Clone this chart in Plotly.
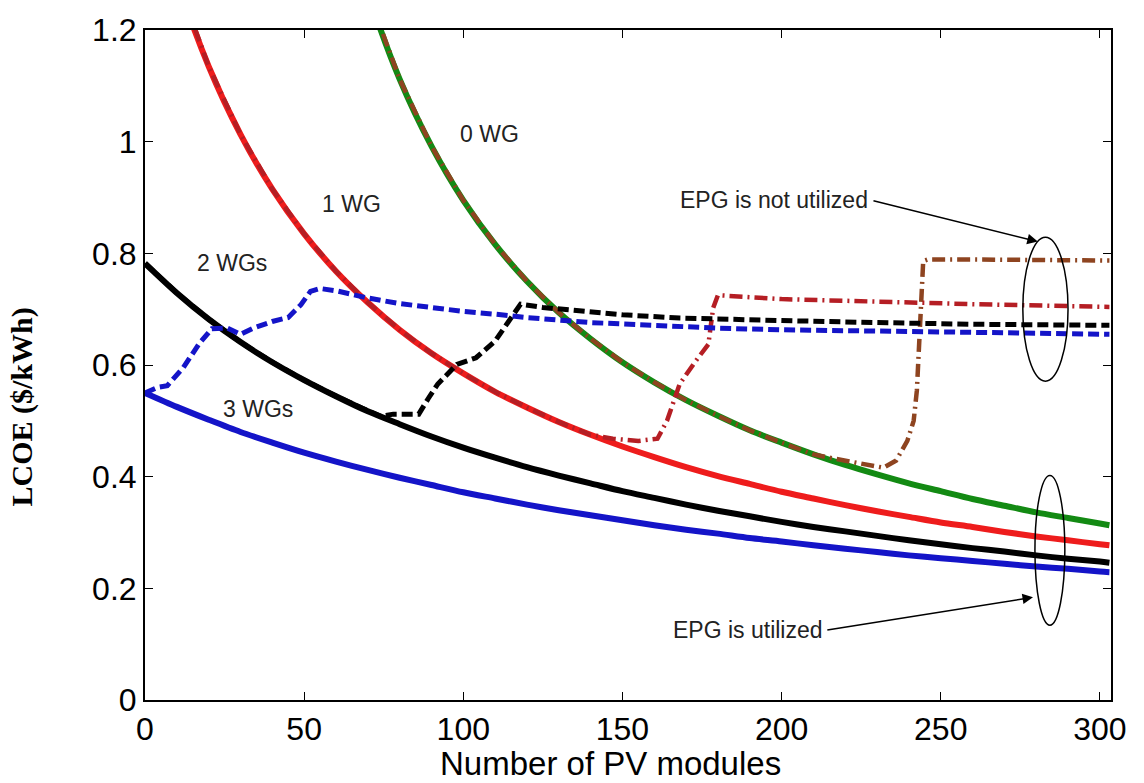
import plotly.graph_objects as go

# ---------------- data ----------------
pv = [0, 10, 20, 30, 40, 50, 60, 70, 80, 90, 100, 110, 120, 130, 140, 150,
      160, 170, 180, 190, 200, 210, 220, 230, 240, 250, 260, 270, 280, 290, 300, 303]

lcoe_1wg = [1.502, 1.292, 1.135, 1.013, 0.915, 0.835, 0.768, 0.712, 0.663, 0.621,
            0.585, 0.552, 0.524, 0.498, 0.475, 0.454, 0.435, 0.417, 0.401, 0.387,
            0.373, 0.361, 0.349, 0.338, 0.328, 0.318, 0.310, 0.301, 0.293, 0.286,
            0.279, 0.277]
lcoe_2wg = [0.782, 0.729, 0.682, 0.641, 0.605, 0.573, 0.544, 0.517, 0.494, 0.472,
            0.452, 0.434, 0.417, 0.402, 0.388, 0.374, 0.362, 0.350, 0.339, 0.329,
            0.319, 0.310, 0.302, 0.294, 0.286, 0.279, 0.272, 0.266, 0.259, 0.253,
            0.248, 0.246]
lcoe_3wg = [0.550, 0.525, 0.502, 0.480, 0.461, 0.443, 0.427, 0.412, 0.398, 0.385,
            0.372, 0.361, 0.350, 0.340, 0.331, 0.322, 0.313, 0.305, 0.298, 0.290,
            0.284, 0.277, 0.271, 0.265, 0.259, 0.254, 0.249, 0.244, 0.239, 0.235,
            0.230, 0.229]

pv_0wg = [65, 70, 80, 90, 100, 110, 120, 130, 140, 150, 160, 170, 180, 190, 200,
          210, 220, 230, 240, 250, 260, 270, 280, 290, 300, 303]
lcoe_0wg = [1.363, 1.267, 1.112, 0.992, 0.895, 0.816, 0.750, 0.694, 0.647, 0.605,
            0.569, 0.537, 0.509, 0.483, 0.461, 0.440, 0.421, 0.404, 0.388, 0.374,
            0.360, 0.348, 0.336, 0.326, 0.316, 0.313]

# EPG not utilized
pv_0wg_ne = [65, 70, 80, 90, 100, 110, 120, 130, 140, 150, 160, 170, 180, 190, 200,
             210, 215, 225, 232, 236, 239.5, 241.5, 242.5, 244.5, 246, 260, 280, 303]
lcoe_0wg_ne = [1.363, 1.267, 1.112, 0.992, 0.895, 0.816, 0.750, 0.694, 0.647, 0.605,
               0.569, 0.537, 0.509, 0.483, 0.461, 0.440, 0.434, 0.423, 0.416, 0.429,
               0.464, 0.500, 0.554, 0.786, 0.789, 0.789, 0.788, 0.787]

pv_1wg_ne = [0, 10, 20, 30, 40, 50, 60, 70, 80, 90, 100, 110, 120, 130, 140,
             147, 155, 161, 164, 168, 173, 177, 178.5, 180, 200, 230, 260, 303]
lcoe_1wg_ne = [1.502, 1.292, 1.135, 1.013, 0.915, 0.835, 0.768, 0.712, 0.663, 0.621,
               0.585, 0.552, 0.524, 0.498, 0.475, 0.468, 0.464, 0.468, 0.500, 0.566,
               0.607, 0.637, 0.702, 0.725, 0.718, 0.713, 0.709, 0.704]

pv_2wg_ne = [0, 10, 20, 30, 40, 50, 60, 70, 74, 78, 86, 89, 92, 98, 104, 110, 115,
             118, 125, 137, 150, 168, 185, 205, 230, 260, 303]
lcoe_2wg_ne = [0.782, 0.729, 0.682, 0.641, 0.605, 0.573, 0.544, 0.517, 0.508, 0.512,
               0.512, 0.540, 0.566, 0.601, 0.613, 0.643, 0.684, 0.709, 0.703, 0.696,
               0.690, 0.684, 0.681, 0.679, 0.676, 0.673, 0.671]

pv_3wg_ne = [0, 4, 7, 12, 17, 21, 26, 30, 34, 40, 45, 49, 52, 55, 60, 70, 80, 90,
             100, 110, 120, 140, 160, 180, 200, 220, 250, 280, 303]
lcoe_3wg_ne = [0.550, 0.560, 0.563, 0.595, 0.638, 0.665, 0.666, 0.655, 0.666, 0.678,
               0.685, 0.708, 0.732, 0.737, 0.733, 0.720, 0.710, 0.702, 0.696, 0.691,
               0.685, 0.676, 0.670, 0.666, 0.663, 0.661, 0.659, 0.657, 0.655]

x_ticks = [0, 50, 100, 150, 200, 250, 300]
y_ticks = [0, 0.2, 0.4, 0.6, 0.8, 1.0, 1.2]
y_ticktext = ["0", "0.2", "0.4", "0.6", "0.8", "1", "1.2"]

curve_labels = ["0 WG", "1 WG", "2 WGs", "3 WGs"]
label_x = [108.1, 65.0, 27.3, 35.5]
label_y = [1.014, 0.8875, 0.782, 0.521]

# ---------------- figure ----------------
GREEN = "#138a13"
RED = "#ee1c1c"
BLACK = "#000000"
BLUE = "#1414c8"
BROWN = "#8e4420"
CRIMSON = "#b51e24"

fig = go.Figure()

def solid(x, y, color):
    fig.add_trace(go.Scatter(x=x, y=y, mode="lines",
                             line=dict(color=color, width=6, shape="spline", smoothing=0.8),
                             showlegend=False, hoverinfo="skip"))

def broken(x, y, color, dash, width=5):
    fig.add_trace(go.Scatter(x=x, y=y, mode="lines",
                             line=dict(color=color, width=width, dash=dash),
                             showlegend=False, hoverinfo="skip"))

solid(pv_0wg, lcoe_0wg, GREEN)
solid(pv, lcoe_1wg, RED)
solid(pv, lcoe_2wg, BLACK)
solid(pv, lcoe_3wg, BLUE)

dashdot = "13px,5px,2px,5px"
broken(pv_0wg_ne, lcoe_0wg_ne, BROWN, dashdot, 4.5)
broken(pv_1wg_ne, lcoe_1wg_ne, CRIMSON, dashdot, 4.5)
broken(pv_2wg_ne, lcoe_2wg_ne, BLACK, "11px,5px", 5)
broken(pv_3wg_ne, lcoe_3wg_ne, BLUE, "11px,5px", 5)

TXT = dict(family="Arial, Liberation Sans, sans-serif", size=23, color="#222222")

annotations = []
for t, xx, yy in zip(curve_labels, label_x, label_y):
    annotations.append(dict(x=xx, y=yy, xref="x", yref="y", text=t, showarrow=False,
                            font=TXT, xanchor="center", yanchor="middle"))

# EPG annotations: text + arrows
annotations.append(dict(x=227.8, y=0.895, xref="x", yref="y", text="EPG is not utilized",
                        showarrow=False, font=TXT, xanchor="right", yanchor="middle"))
annotations.append(dict(x=280.5, y=0.821, ax=228.4, ay=0.895, xref="x", yref="y",
                        axref="x", ayref="y", text="", showarrow=True, arrowhead=2,
                        arrowsize=1.4, arrowwidth=1.5, arrowcolor="black"))
annotations.append(dict(x=213.6, y=0.125, xref="x", yref="y", text="EPG is utilized",
                        showarrow=False, font=TXT, xanchor="right", yanchor="middle"))
annotations.append(dict(x=279.0, y=0.184, ax=213.9, ay=0.125, xref="x", yref="y",
                        axref="x", ayref="y", text="", showarrow=True, arrowhead=2,
                        arrowsize=1.4, arrowwidth=1.5, arrowcolor="black"))

# axis titles
annotations.append(dict(x=0.482, y=-0.095, xref="paper", yref="paper",
                        text="Number of PV modules", showarrow=False,
                        font=dict(family="Arial, Liberation Sans, sans-serif", size=33, color="black"),
                        xanchor="center", yanchor="middle"))
annotations.append(dict(x=-0.127, y=0.437, xref="paper", yref="paper",
                        text="<b>LCOE ($/kWh)</b>", showarrow=False, textangle=-90,
                        font=dict(family="Times New Roman, Liberation Serif, serif", size=30, color="black"),
                        xanchor="center", yanchor="middle"))

shapes = [
    dict(type="circle", xref="x", yref="y", x0=275.8, x1=290.0, y0=0.571, y1=0.829,
         line=dict(color="black", width=1.5)),
    dict(type="circle", xref="x", yref="y", x0=279.6, x1=289.0, y0=0.134, y1=0.402,
         line=dict(color="black", width=1.5)),
]

axis_font = dict(family="Arial, Liberation Sans, sans-serif", size=32, color="black")

fig.update_layout(
    width=1144, height=783,
    margin=dict(l=145, r=33, t=27, b=83),
    paper_bgcolor="white", plot_bgcolor="white",
    annotations=annotations, shapes=shapes,
    xaxis=dict(range=[0, 303.5], tickvals=x_ticks, ticks="inside", ticklen=8,
               tickwidth=1.2, tickcolor="black", showline=True, linecolor="black",
               linewidth=2, mirror="ticks", showgrid=False, zeroline=False,
               tickfont=axis_font),
    yaxis=dict(range=[0, 1.2], tickvals=y_ticks, ticktext=y_ticktext, ticks="inside",
               ticklen=8, tickwidth=1.2, tickcolor="black", showline=True,
               linecolor="black", linewidth=2, mirror="ticks", showgrid=False,
               zeroline=False, tickfont=axis_font),
)

fig.write_html("out.html", config={"displayModeBar": False},
               post_script="document.body.style.margin='0px';document.body.style.overflow='hidden';")
